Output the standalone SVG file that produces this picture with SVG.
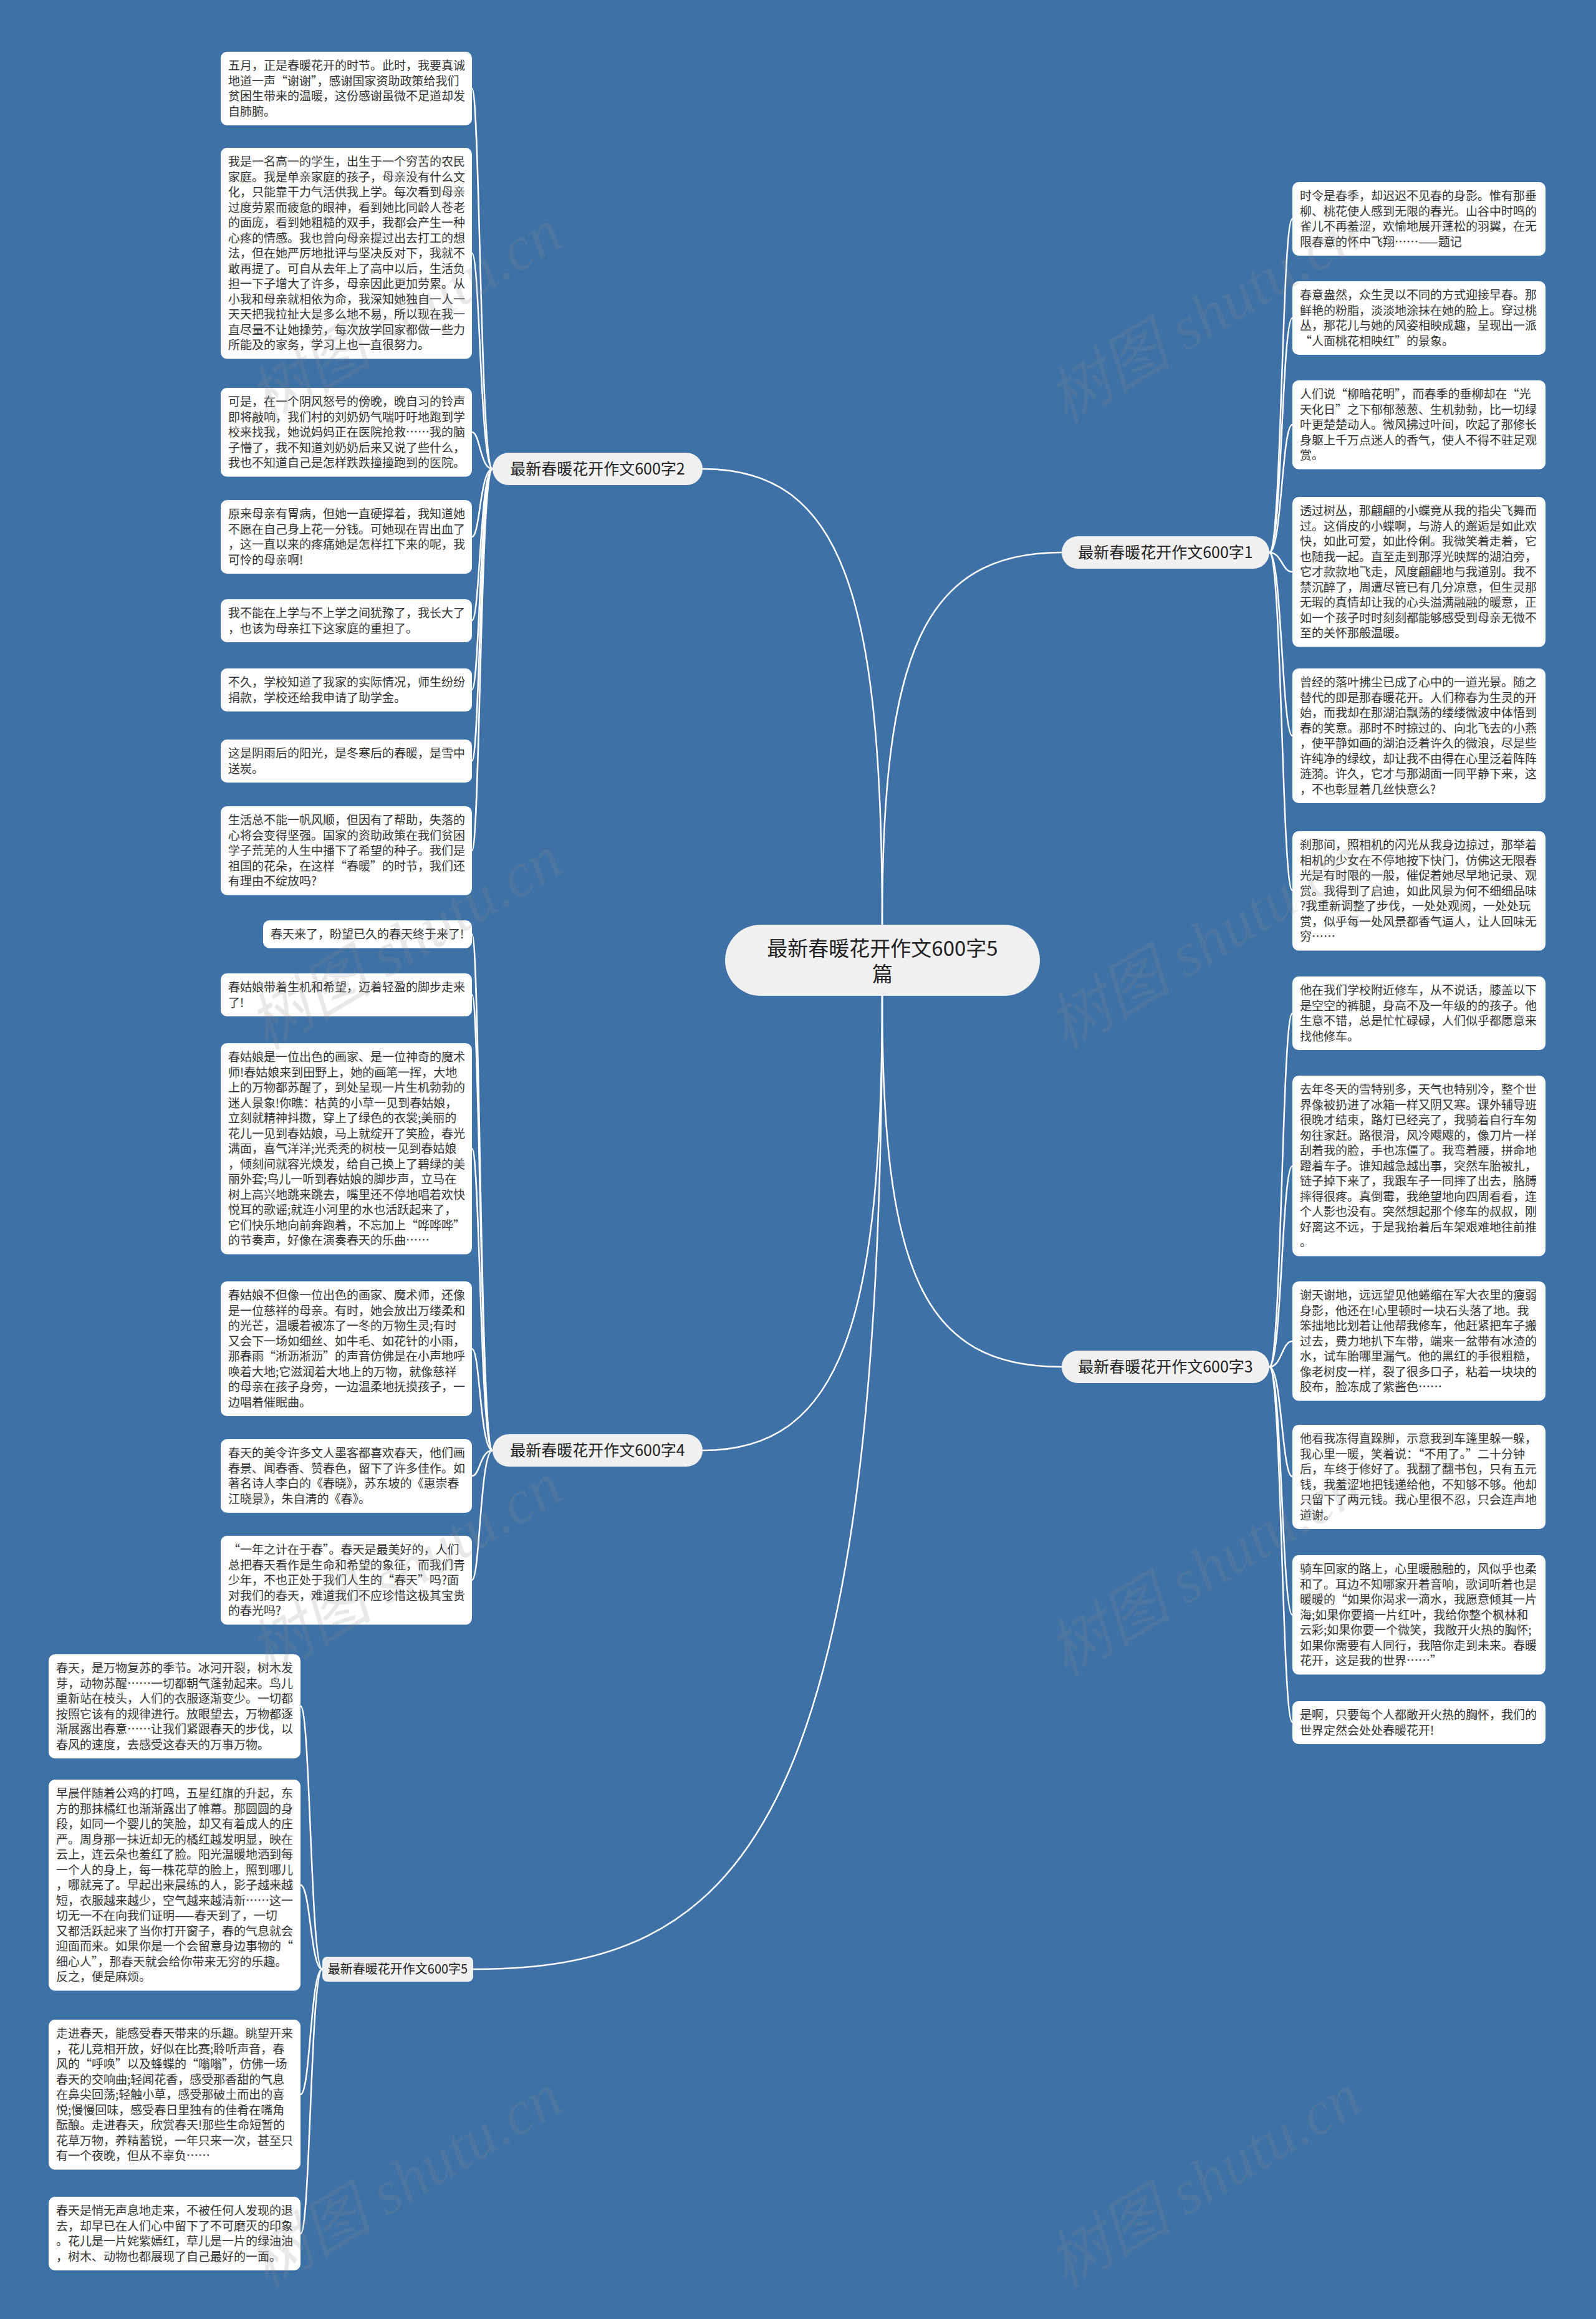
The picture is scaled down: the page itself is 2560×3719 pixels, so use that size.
<svg xmlns="http://www.w3.org/2000/svg" width="2560" height="3719" viewBox="0 0 2560 3719">
<style>
.bg{fill:#3e72a6}
.leaf{fill:#ffffff}
.lt{font-family:"Noto Sans CJK SC","Liberation Sans",sans-serif;font-size:19px;fill:#333333}
.br{fill:#f0f0f0}
.bt{font-family:"Noto Sans CJK SC","Liberation Sans",sans-serif;font-size:25px;fill:#222222;text-anchor:middle}
.ct{font-family:"Noto Sans CJK SC","Liberation Sans",sans-serif;font-size:33px;fill:#222222;text-anchor:middle}
.conn path{fill:none;stroke:#ffffff;stroke-width:2.5}
.wm{font-family:"Liberation Serif","Noto Sans CJK SC",serif;font-size:100px;font-style:italic;fill:#8a8a8a;opacity:0.2;text-anchor:middle}
</style>
<rect class="bg" x="0" y="0" width="2560" height="3719"/>
<g id="connectors" class="conn">
<path d="M1415 1483 C1415 950,1350 752,1127 752"/>
<path d="M1415 1483 C1415 1050,1480 886,1703 886"/>
<path d="M1415 1597 C1415 2120,1350 2326,1127 2326"/>
<path d="M1415 1597 C1415 2040,1480 2192,1703 2192"/>
<path d="M1415 1597 C1415 2950,1180 3158,759 3158"/>
<path d="M790 752 C770 752,770 142,757 142"/>
<path d="M790 752 C770 752,770 406,757 406"/>
<path d="M790 752 C770 752,770 693,757 693"/>
<path d="M790 752 C770 752,770 861,757 861"/>
<path d="M790 752 C770 752,770 995,757 995"/>
<path d="M790 752 C770 752,770 1106,757 1106"/>
<path d="M790 752 C770 752,770 1220,757 1220"/>
<path d="M790 752 C770 752,770 1364,757 1364"/>
<path d="M790 2326 C770 2326,770 1498,757 1498"/>
<path d="M790 2326 C770 2326,770 1595,757 1595"/>
<path d="M790 2326 C770 2326,770 1842,757 1842"/>
<path d="M790 2326 C770 2326,770 2163,757 2163"/>
<path d="M790 2326 C770 2326,770 2367,757 2367"/>
<path d="M790 2326 C770 2326,770 2534,757 2534"/>
<path d="M517 3158 C498 3158,498 2736,482 2736"/>
<path d="M517 3158 C498 3158,498 3023,482 3023"/>
<path d="M517 3158 C498 3158,498 3359,482 3359"/>
<path d="M517 3158 C498 3158,498 3582,482 3582"/>
<path d="M2036 886 C2056 886,2056 351,2073 351"/>
<path d="M2036 886 C2056 886,2056 510,2073 510"/>
<path d="M2036 886 C2056 886,2056 681,2073 681"/>
<path d="M2036 886 C2056 886,2056 917,2073 917"/>
<path d="M2036 886 C2056 886,2056 1180,2073 1180"/>
<path d="M2036 886 C2056 886,2056 1428,2073 1428"/>
<path d="M2036 2192 C2056 2192,2056 1625,2073 1625"/>
<path d="M2036 2192 C2056 2192,2056 1870,2073 1870"/>
<path d="M2036 2192 C2056 2192,2056 2151,2073 2151"/>
<path d="M2036 2192 C2056 2192,2056 2368,2073 2368"/>
<path d="M2036 2192 C2056 2192,2056 2590,2073 2590"/>
<path d="M2036 2192 C2056 2192,2056 2762,2073 2762"/>
</g>
<g id="center"><rect class="br" x="1163" y="1483" width="505" height="114" rx="57"/><text class="ct" x="1415.5" y="1533">最新春暖花开作文600字5<tspan x="1415.5" y="1574">篇</tspan></text></g>
<g id="b2"><rect class="br" x="790" y="726" width="337" height="52" rx="26"/><text class="bt" x="958.5" y="761">最新春暖花开作文600字2</text></g>
<g id="b1"><rect class="br" x="1703" y="860" width="333" height="52" rx="26"/><text class="bt" x="1869.5" y="895">最新春暖花开作文600字1</text></g>
<g id="b4"><rect class="br" x="790" y="2300" width="337" height="52" rx="26"/><text class="bt" x="958.5" y="2335">最新春暖花开作文600字4</text></g>
<g id="b3"><rect class="br" x="1703" y="2166" width="333" height="52" rx="26"/><text class="bt" x="1869.5" y="2201">最新春暖花开作文600字3</text></g>
<g id="b5"><rect class="br" x="517" y="3138" width="242" height="40" rx="8"/><text class="bt" style="font-size:20px" x="638" y="3165">最新春暖花开作文600字5</text></g>

<g id="l1"><rect class="leaf" x="354" y="83" width="403" height="118" rx="10"/><text class="lt"><tspan x="366" y="112">五月，正是春暖花开的时节。此时，我要真诚</tspan><tspan x="366" dy="24.5">地道一声“谢谢”，感谢国家资助政策给我们</tspan><tspan x="366" dy="24.5">贫困生带来的温暖，这份感谢虽微不足道却发</tspan><tspan x="366" dy="24.5">自肺腑。</tspan></text></g>
<g id="l2"><rect class="leaf" x="354" y="237" width="403" height="338.5" rx="10"/><text class="lt"><tspan x="366" y="266">我是一名高一的学生，出生于一个穷苦的农民</tspan><tspan x="366" dy="24.5">家庭。我是单亲家庭的孩子，母亲没有什么文</tspan><tspan x="366" dy="24.5">化，只能靠干力气活供我上学。每次看到母亲</tspan><tspan x="366" dy="24.5">过度劳累而疲惫的眼神，看到她比同龄人苍老</tspan><tspan x="366" dy="24.5">的面庞，看到她粗糙的双手，我都会产生一种</tspan><tspan x="366" dy="24.5">心疼的情感。我也曾向母亲提过出去打工的想</tspan><tspan x="366" dy="24.5">法，但在她严厉地批评与坚决反对下，我就不</tspan><tspan x="366" dy="24.5">敢再提了。可自从去年上了高中以后，生活负</tspan><tspan x="366" dy="24.5">担一下子增大了许多，母亲因此更加劳累。从</tspan><tspan x="366" dy="24.5">小我和母亲就相依为命，我深知她独自一人一</tspan><tspan x="366" dy="24.5">天天把我拉扯大是多么地不易，所以现在我一</tspan><tspan x="366" dy="24.5">直尽量不让她操劳，每次放学回家都做一些力</tspan><tspan x="366" dy="24.5">所能及的家务，学习上也一直很努力。</tspan></text></g>
<g id="l3"><rect class="leaf" x="354" y="622" width="403" height="142.5" rx="10"/><text class="lt"><tspan x="366" y="651">可是，在一个阴风怒号的傍晚，晚自习的铃声</tspan><tspan x="366" dy="24.5">即将敲响，我们村的刘奶奶气喘吁吁地跑到学</tspan><tspan x="366" dy="24.5">校来找我，她说妈妈正在医院抢救……我的脑</tspan><tspan x="366" dy="24.5">子懵了，我不知道刘奶奶后来又说了些什么，</tspan><tspan x="366" dy="24.5">我也不知道自己是怎样跌跌撞撞跑到的医院。</tspan></text></g>
<g id="l4"><rect class="leaf" x="354" y="802" width="403" height="118" rx="10"/><text class="lt"><tspan x="366" y="831">原来母亲有胃病，但她一直硬撑着，我知道她</tspan><tspan x="366" dy="24.5">不愿在自己身上花一分钱。可她现在胃出血了</tspan><tspan x="366" dy="24.5">，这一直以来的疼痛她是怎样扛下来的呢，我</tspan><tspan x="366" dy="24.5">可怜的母亲啊!</tspan></text></g>
<g id="l5"><rect class="leaf" x="354" y="961" width="403" height="69" rx="10"/><text class="lt"><tspan x="366" y="990">我不能在上学与不上学之间犹豫了，我长大了</tspan><tspan x="366" dy="24.5">，也该为母亲扛下这家庭的重担了。</tspan></text></g>
<g id="l6"><rect class="leaf" x="354" y="1072" width="403" height="69" rx="10"/><text class="lt"><tspan x="366" y="1101">不久，学校知道了我家的实际情况，师生纷纷</tspan><tspan x="366" dy="24.5">捐款，学校还给我申请了助学金。</tspan></text></g>
<g id="l7"><rect class="leaf" x="354" y="1186" width="403" height="69" rx="10"/><text class="lt"><tspan x="366" y="1215">这是阴雨后的阳光，是冬寒后的春暖，是雪中</tspan><tspan x="366" dy="24.5">送炭。</tspan></text></g>
<g id="l8"><rect class="leaf" x="354" y="1293" width="403" height="142.5" rx="10"/><text class="lt"><tspan x="366" y="1322">生活总不能一帆风顺，但因有了帮助，失落的</tspan><tspan x="366" dy="24.5">心将会变得坚强。国家的资助政策在我们贫困</tspan><tspan x="366" dy="24.5">学子荒芜的人生中播下了希望的种子。我们是</tspan><tspan x="366" dy="24.5">祖国的花朵，在这样“春暖”的时节，我们还</tspan><tspan x="366" dy="24.5">有理由不绽放吗?</tspan></text></g>

<g id="l9"><rect class="leaf" x="422" y="1476" width="335" height="44.5" rx="10"/><text class="lt"><tspan x="434" y="1505">春天来了，盼望已久的春天终于来了!</tspan></text></g>
<g id="l10"><rect class="leaf" x="354" y="1561" width="403" height="69" rx="10"/><text class="lt"><tspan x="366" y="1590">春姑娘带着生机和希望，迈着轻盈的脚步走来</tspan><tspan x="366" dy="24.5">了!</tspan></text></g>
<g id="l11"><rect class="leaf" x="354" y="1673" width="403" height="338.5" rx="10"/><text class="lt"><tspan x="366" y="1702">春姑娘是一位出色的画家、是一位神奇的魔术</tspan><tspan x="366" dy="24.5">师!春姑娘来到田野上，她的画笔一挥，大地</tspan><tspan x="366" dy="24.5">上的万物都苏醒了，到处呈现一片生机勃勃的</tspan><tspan x="366" dy="24.5">迷人景象!你瞧：枯黄的小草一见到春姑娘，</tspan><tspan x="366" dy="24.5">立刻就精神抖擞，穿上了绿色的衣裳;美丽的</tspan><tspan x="366" dy="24.5">花儿一见到春姑娘，马上就绽开了笑脸，春光</tspan><tspan x="366" dy="24.5">满面，喜气洋洋;光秃秃的树枝一见到春姑娘</tspan><tspan x="366" dy="24.5">，倾刻间就容光焕发，给自己换上了碧绿的美</tspan><tspan x="366" dy="24.5">丽外套;鸟儿一听到春姑娘的脚步声，立马在</tspan><tspan x="366" dy="24.5">树上高兴地跳来跳去，嘴里还不停地唱着欢快</tspan><tspan x="366" dy="24.5">悦耳的歌谣;就连小河里的水也活跃起来了，</tspan><tspan x="366" dy="24.5">它们快乐地向前奔跑着，不忘加上“哗哗哗”</tspan><tspan x="366" dy="24.5">的节奏声，好像在演奏春天的乐曲……</tspan></text></g>
<g id="l12"><rect class="leaf" x="354" y="2055" width="403" height="216" rx="10"/><text class="lt"><tspan x="366" y="2084">春姑娘不但像一位出色的画家、魔术师，还像</tspan><tspan x="366" dy="24.5">是一位慈祥的母亲。有时，她会放出万缕柔和</tspan><tspan x="366" dy="24.5">的光芒，温暖着被冻了一冬的万物生灵;有时</tspan><tspan x="366" dy="24.5">又会下一场如细丝、如牛毛、如花针的小雨，</tspan><tspan x="366" dy="24.5">那春雨“淅沥淅沥”的声音仿佛是在小声地呼</tspan><tspan x="366" dy="24.5">唤着大地;它滋润着大地上的万物，就像慈祥</tspan><tspan x="366" dy="24.5">的母亲在孩子身旁，一边温柔地抚摸孩子，一</tspan><tspan x="366" dy="24.5">边唱着催眠曲。</tspan></text></g>
<g id="l13"><rect class="leaf" x="354" y="2308" width="403" height="118" rx="10"/><text class="lt"><tspan x="366" y="2337">春天的美令许多文人墨客都喜欢春天，他们画</tspan><tspan x="366" dy="24.5">春景、闻春香、赞春色，留下了许多佳作。如</tspan><tspan x="366" dy="24.5">著名诗人李白的《春晓》，苏东坡的《惠崇春</tspan><tspan x="366" dy="24.5">江晓景》，朱自清的《春》。</tspan></text></g>
<g id="l14"><rect class="leaf" x="354" y="2463" width="403" height="142.5" rx="10"/><text class="lt"><tspan x="366" y="2492">“一年之计在于春”。春天是最美好的，人们</tspan><tspan x="366" dy="24.5">总把春天看作是生命和希望的象征，而我们青</tspan><tspan x="366" dy="24.5">少年，不也正处于我们人生的“春天”吗?面</tspan><tspan x="366" dy="24.5">对我们的春天，难道我们不应珍惜这极其宝贵</tspan><tspan x="366" dy="24.5">的春光吗?</tspan></text></g>

<g id="l15"><rect class="leaf" x="78" y="2653" width="404" height="167" rx="10"/><text class="lt"><tspan x="90" y="2682">春天，是万物复苏的季节。冰河开裂，树木发</tspan><tspan x="90" dy="24.5">芽，动物苏醒……一切都朝气蓬勃起来。鸟儿</tspan><tspan x="90" dy="24.5">重新站在枝头，人们的衣服逐渐变少。一切都</tspan><tspan x="90" dy="24.5">按照它该有的规律进行。放眼望去，万物都逐</tspan><tspan x="90" dy="24.5">渐展露出春意……让我们紧跟春天的步伐，以</tspan><tspan x="90" dy="24.5">春风的速度，去感受这春天的万事万物。</tspan></text></g>
<g id="l16"><rect class="leaf" x="78" y="2854" width="404" height="338.5" rx="10"/><text class="lt"><tspan x="90" y="2883">早晨伴随着公鸡的打鸣，五星红旗的升起，东</tspan><tspan x="90" dy="24.5">方的那抹橘红也渐渐露出了帷幕。那圆圆的身</tspan><tspan x="90" dy="24.5">段，如同一个婴儿的笑脸，却又有着成人的庄</tspan><tspan x="90" dy="24.5">严。周身那一抹近却无的橘红越发明显，映在</tspan><tspan x="90" dy="24.5">云上，连云朵也羞红了脸。阳光温暖地洒到每</tspan><tspan x="90" dy="24.5">一个人的身上，每一株花草的脸上，照到哪儿</tspan><tspan x="90" dy="24.5">，哪就亮了。早起出来晨练的人，影子越来越</tspan><tspan x="90" dy="24.5">短，衣服越来越少，空气越来越清新……这一</tspan><tspan x="90" dy="24.5">切无一不在向我们证明——春天到了，一切</tspan><tspan x="90" dy="24.5">又都活跃起来了当你打开窗子，春的气息就会</tspan><tspan x="90" dy="24.5">迎面而来。如果你是一个会留意身边事物的“</tspan><tspan x="90" dy="24.5">细心人”，那春天就会给你带来无穷的乐趣。</tspan><tspan x="90" dy="24.5">反之，便是麻烦。</tspan></text></g>
<g id="l17"><rect class="leaf" x="78" y="3239" width="404" height="240.5" rx="10"/><text class="lt"><tspan x="90" y="3268">走进春天，能感受春天带来的乐趣。眺望开来</tspan><tspan x="90" dy="24.5">，花儿竞相开放，好似在比赛;聆听声音，春</tspan><tspan x="90" dy="24.5">风的“呼唤”以及蜂蝶的“嗡嗡”，仿佛一场</tspan><tspan x="90" dy="24.5">春天的交响曲;轻闻花香，感受那香甜的气息</tspan><tspan x="90" dy="24.5">在鼻尖回荡;轻触小草，感受那破土而出的喜</tspan><tspan x="90" dy="24.5">悦;慢慢回味，感受春日里独有的佳肴在嘴角</tspan><tspan x="90" dy="24.5">酝酿。走进春天，欣赏春天!那些生命短暂的</tspan><tspan x="90" dy="24.5">花草万物，养精蓄锐，一年只来一次，甚至只</tspan><tspan x="90" dy="24.5">有一个夜晚，但从不辜负……</tspan></text></g>
<g id="l18"><rect class="leaf" x="78" y="3523" width="404" height="118" rx="10"/><text class="lt"><tspan x="90" y="3552">春天是悄无声息地走来，不被任何人发现的退</tspan><tspan x="90" dy="24.5">去，却早已在人们心中留下了不可磨灭的印象</tspan><tspan x="90" dy="24.5">。花儿是一片姹紫嫣红，草儿是一片的绿油油</tspan><tspan x="90" dy="24.5">，树木、动物也都展现了自己最好的一面。</tspan></text></g>

<g id="r1"><rect class="leaf" x="2073" y="292" width="406" height="118" rx="10"/><text class="lt"><tspan x="2085" y="321">时令是春季，却迟迟不见春的身影。惟有那垂</tspan><tspan x="2085" dy="24.5">柳、桃花使人感到无限的春光。山谷中时鸣的</tspan><tspan x="2085" dy="24.5">雀儿不再羞涩，欢愉地展开蓬松的羽翼，在无</tspan><tspan x="2085" dy="24.5">限春意的怀中飞翔……——题记</tspan></text></g>
<g id="r2"><rect class="leaf" x="2073" y="451" width="406" height="118" rx="10"/><text class="lt"><tspan x="2085" y="480">春意盎然，众生灵以不同的方式迎接早春。那</tspan><tspan x="2085" dy="24.5">鲜艳的粉脂，淡淡地涂抹在她的脸上。穿过桃</tspan><tspan x="2085" dy="24.5">丛，那花儿与她的风姿相映成趣，呈现出一派</tspan><tspan x="2085" dy="24.5">“人面桃花相映红”的景象。</tspan></text></g>
<g id="r3"><rect class="leaf" x="2073" y="610" width="406" height="142.5" rx="10"/><text class="lt"><tspan x="2085" y="639">人们说“柳暗花明”，而春季的垂柳却在“光</tspan><tspan x="2085" dy="24.5">天化日”之下郁郁葱葱、生机勃勃，比一切绿</tspan><tspan x="2085" dy="24.5">叶更楚楚动人。微风拂过叶间，吹起了那修长</tspan><tspan x="2085" dy="24.5">身躯上千万点迷人的香气，使人不得不驻足观</tspan><tspan x="2085" dy="24.5">赏。</tspan></text></g>
<g id="r4"><rect class="leaf" x="2073" y="797" width="406" height="240.5" rx="10"/><text class="lt"><tspan x="2085" y="826">透过树丛，那翩翩的小蝶竟从我的指尖飞舞而</tspan><tspan x="2085" dy="24.5">过。这俏皮的小蝶啊，与游人的邂逅是如此欢</tspan><tspan x="2085" dy="24.5">快，如此可爱，如此伶俐。我微笑着走着，它</tspan><tspan x="2085" dy="24.5">也随我一起。直至走到那浮光映辉的湖泊旁，</tspan><tspan x="2085" dy="24.5">它才款款地飞走，风度翩翩地与我道别。我不</tspan><tspan x="2085" dy="24.5">禁沉醉了，周遭尽管已有几分凉意，但生灵那</tspan><tspan x="2085" dy="24.5">无瑕的真情却让我的心头溢满融融的暖意，正</tspan><tspan x="2085" dy="24.5">如一个孩子时时刻刻都能够感受到母亲无微不</tspan><tspan x="2085" dy="24.5">至的关怀那般温暖。</tspan></text></g>
<g id="r5"><rect class="leaf" x="2073" y="1072" width="406" height="216" rx="10"/><text class="lt"><tspan x="2085" y="1101">曾经的落叶拂尘已成了心中的一道光景。随之</tspan><tspan x="2085" dy="24.5">替代的即是那春暖花开。人们称春为生灵的开</tspan><tspan x="2085" dy="24.5">始，而我却在那湖泊飘荡的缕缕微波中体悟到</tspan><tspan x="2085" dy="24.5">春的笑意。那时不时掠过的、向北飞去的小燕</tspan><tspan x="2085" dy="24.5">，使平静如画的湖泊泛着许久的微浪，尽是些</tspan><tspan x="2085" dy="24.5">许纯净的绿纹，却让我不由得在心里泛着阵阵</tspan><tspan x="2085" dy="24.5">涟漪。许久，它才与那湖面一同平静下来，这</tspan><tspan x="2085" dy="24.5">，不也彰显着几丝快意么?</tspan></text></g>
<g id="r6"><rect class="leaf" x="2073" y="1333" width="406" height="191.5" rx="10"/><text class="lt"><tspan x="2085" y="1362">刹那间，照相机的闪光从我身边掠过，那举着</tspan><tspan x="2085" dy="24.5">相机的少女在不停地按下快门，仿佛这无限春</tspan><tspan x="2085" dy="24.5">光是有时限的一般，催促着她尽早地记录、观</tspan><tspan x="2085" dy="24.5">赏。我得到了启迪，如此风景为何不细细品味</tspan><tspan x="2085" dy="24.5">?我重新调整了步伐，一处处观阅，一处处玩</tspan><tspan x="2085" dy="24.5">赏，似乎每一处风景都香气逼人，让人回味无</tspan><tspan x="2085" dy="24.5">穷……</tspan></text></g>

<g id="r7"><rect class="leaf" x="2073" y="1566" width="406" height="118" rx="10"/><text class="lt"><tspan x="2085" y="1595">他在我们学校附近修车，从不说话，膝盖以下</tspan><tspan x="2085" dy="24.5">是空空的裤腿，身高不及一年级的的孩子。他</tspan><tspan x="2085" dy="24.5">生意不错，总是忙忙碌碌，人们似乎都愿意来</tspan><tspan x="2085" dy="24.5">找他修车。</tspan></text></g>
<g id="r8"><rect class="leaf" x="2073" y="1725" width="406" height="289.5" rx="10"/><text class="lt"><tspan x="2085" y="1754">去年冬天的雪特别多，天气也特别冷，整个世</tspan><tspan x="2085" dy="24.5">界像被扔进了冰箱一样又阴又寒。课外辅导班</tspan><tspan x="2085" dy="24.5">很晚才结束，路灯已经亮了，我骑着自行车匆</tspan><tspan x="2085" dy="24.5">匆往家赶。路很滑，风冷飕飕的，像刀片一样</tspan><tspan x="2085" dy="24.5">刮着我的脸，手也冻僵了。我弯着腰，拼命地</tspan><tspan x="2085" dy="24.5">蹬着车子。谁知越急越出事，突然车胎被扎，</tspan><tspan x="2085" dy="24.5">链子掉下来了，我跟车子一同摔了出去，胳膊</tspan><tspan x="2085" dy="24.5">摔得很疼。真倒霉，我绝望地向四周看看，连</tspan><tspan x="2085" dy="24.5">个人影也没有。突然想起那个修车的叔叔，刚</tspan><tspan x="2085" dy="24.5">好离这不远，于是我抬着后车架艰难地往前推</tspan><tspan x="2085" dy="24.5">。</tspan></text></g>
<g id="r9"><rect class="leaf" x="2073" y="2055" width="406" height="191.5" rx="10"/><text class="lt"><tspan x="2085" y="2084">谢天谢地，远远望见他蜷缩在军大衣里的瘦弱</tspan><tspan x="2085" dy="24.5">身影，他还在!心里顿时一块石头落了地。我</tspan><tspan x="2085" dy="24.5">笨拙地比划着让他帮我修车，他赶紧把车子搬</tspan><tspan x="2085" dy="24.5">过去，费力地扒下车带，端来一盆带有冰渣的</tspan><tspan x="2085" dy="24.5">水，试车胎哪里漏气。他的黑红的手很粗糙，</tspan><tspan x="2085" dy="24.5">像老树皮一样，裂了很多口子，粘着一块块的</tspan><tspan x="2085" dy="24.5">胶布，脸冻成了紫酱色……</tspan></text></g>
<g id="r10"><rect class="leaf" x="2073" y="2285" width="406" height="167" rx="10"/><text class="lt"><tspan x="2085" y="2314">他看我冻得直跺脚，示意我到车篷里躲一躲，</tspan><tspan x="2085" dy="24.5">我心里一暖，笑着说：“不用了。”二十分钟</tspan><tspan x="2085" dy="24.5">后，车终于修好了。我翻了翻书包，只有五元</tspan><tspan x="2085" dy="24.5">钱，我羞涩地把钱递给他，不知够不够。他却</tspan><tspan x="2085" dy="24.5">只留下了两元钱。我心里很不忍，只会连声地</tspan><tspan x="2085" dy="24.5">道谢。</tspan></text></g>
<g id="r11"><rect class="leaf" x="2073" y="2494" width="406" height="191.5" rx="10"/><text class="lt"><tspan x="2085" y="2523">骑车回家的路上，心里暖融融的，风似乎也柔</tspan><tspan x="2085" dy="24.5">和了。耳边不知哪家开着音响，歌词听着也是</tspan><tspan x="2085" dy="24.5">暖暖的“如果你渴求一滴水，我愿意倾其一片</tspan><tspan x="2085" dy="24.5">海;如果你要摘一片红叶，我给你整个枫林和</tspan><tspan x="2085" dy="24.5">云彩;如果你要一个微笑，我敞开火热的胸怀;</tspan><tspan x="2085" dy="24.5">如果你需要有人同行，我陪你走到未来。春暖</tspan><tspan x="2085" dy="24.5">花开，这是我的世界……”</tspan></text></g>
<g id="r12"><rect class="leaf" x="2073" y="2728" width="406" height="69" rx="10"/><text class="lt"><tspan x="2085" y="2757">是啊，只要每个人都敞开火热的胸怀，我们的</tspan><tspan x="2085" dy="24.5">世界定然会处处春暖花开!</tspan></text></g>

<g id="watermark" class="wm">
<text x="652" y="540" transform="rotate(-31 652 510)">树图 shutu.cn</text>
<text x="1934" y="540" transform="rotate(-31 1934 510)">树图 shutu.cn</text>
<text x="652" y="1545" transform="rotate(-31 652 1515)">树图 shutu.cn</text>
<text x="1934" y="1545" transform="rotate(-31 1934 1515)">树图 shutu.cn</text>
<text x="652" y="2550" transform="rotate(-31 652 2520)">树图 shutu.cn</text>
<text x="1934" y="2550" transform="rotate(-31 1934 2520)">树图 shutu.cn</text>
<text x="652" y="3530" transform="rotate(-31 652 3500)">树图 shutu.cn</text>
<text x="1934" y="3530" transform="rotate(-31 1934 3500)">树图 shutu.cn</text>
</g>
</svg>
